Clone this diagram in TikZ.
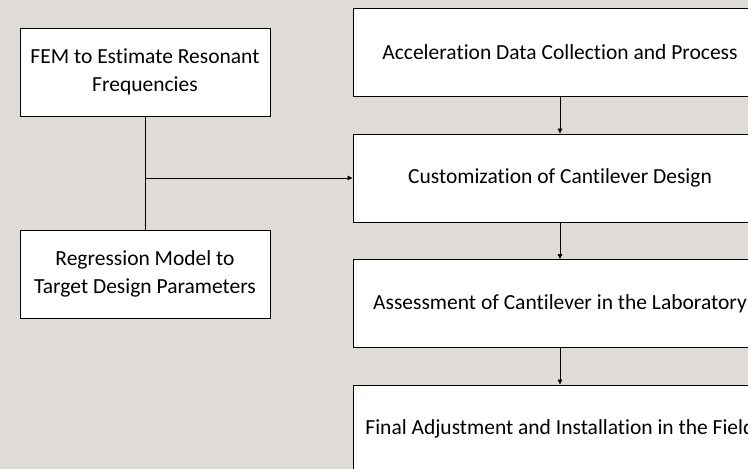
\documentclass[tikz,border=0pt]{standalone}
\usepackage{fontspec}
\setmainfont[Ligatures={NoCommon}]{Carlito}
\usetikzlibrary{arrows.meta}
\definecolor{bg}{HTML}{DFDCD7}
\tikzset{
  box/.style={draw=black, line width=0.9pt, fill=white, rectangle, align=center, inner sep=0pt,
    font=\fontsize{21.5}{28}\selectfont},
  lbox/.style={box, minimum width=250pt, minimum height=88pt},
  rbox/.style={box, minimum width=414pt, minimum height=88pt},
  conn/.style={draw=black, line width=0.8pt},
  arr/.style={conn, -{Triangle[length=5pt,width=4.5pt]}}
}
\begin{document}
\begin{tikzpicture}[x=1pt,y=-1pt]
\useasboundingbox (0,0) rectangle (748,469);
\fill[bg] (0,0) rectangle (748,469);
\clip (0,0) rectangle (748,469);
\node[lbox] (fem) at (145,72) {FEM to Estimate Resonant\\Frequencies};
\node[lbox] (reg) at (145,274) {Regression Model to\\Target Design Parameters};
\node[rbox] (acc) at (560,52.5) {Acceleration Data Collection and Process};
\node[rbox] (cus) at (560,178) {Customization of Cantilever Design};
\node[rbox] (ass) at (560,303.5) {Assessment of Cantilever in the Laboratory};
\node[rbox] (fin) at (560,429) {Final Adjustment and Installation in the Field};
\coordinate (j) at (fem.south |- cus.west);
\draw[conn] (fem.south) -- (reg.north);
\draw[arr] (j) -- (cus.west);
\draw[arr] (acc.south) -- (cus.north);
\draw[arr] (cus.south) -- (ass.north);
\draw[arr] (ass.south) -- (fin.north);
\end{tikzpicture}
\end{document}
